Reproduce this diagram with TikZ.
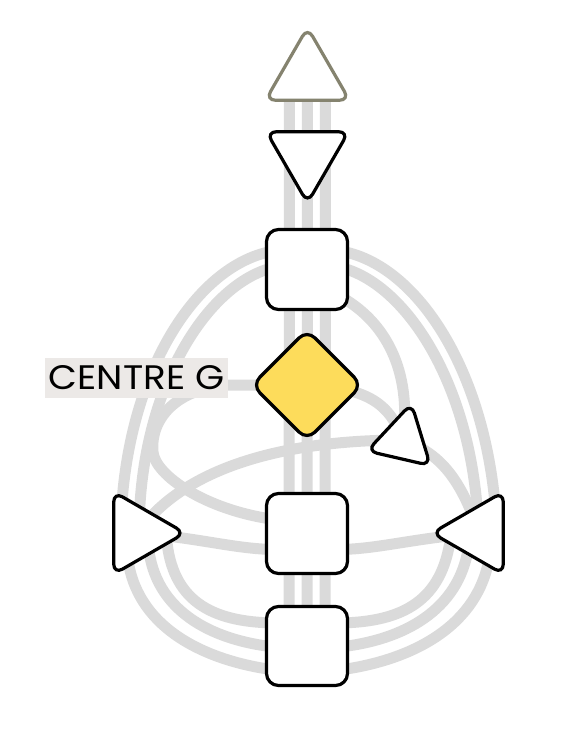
\documentclass[tikz,border=0pt]{standalone}
\usepackage{fontspec}
\setmainfont{Poppins}
\usepackage{xcolor}
\usetikzlibrary{
    shapes.geometric,
    calc,
    positioning
}
\pgfdeclarelayer{bg}
\pgfsetlayers{bg,main}
\definecolor{chanGray}{HTML}{DADADA}
\definecolor{headGray}{HTML}{85836F}
\definecolor{gYellow}{HTML}{FDDC5B}
\definecolor{lblGray}{HTML}{ECE9E7}
\tikzset{
    centrebox/.style={draw=black, line width=3.2pt, fill=white, inner sep=0pt, outer sep=0pt},
    tri/.style={centrebox, regular polygon, regular polygon sides=3, rounded corners=10pt},
    sq/.style={centrebox, rectangle, rounded corners=12pt, minimum width=81pt, minimum height=80pt},
    chan/.style={draw=chanGray, line width=11pt},
    lbl/.style={fill=lblGray, inner sep=0pt, minimum width=183pt, minimum height=40pt,
        font=\fontsize{34}{34}\selectfont}
}

\begin{document}
\begin{tikzpicture}[x=1pt, y=-1pt]
    \useasboundingbox (0,0) rectangle (571,752);

    \node[tri, draw=headGray, minimum size=97pt] (head) at (307.5,76) {};
    \node[tri, minimum size=95pt, rotate=180] (ajna) at (307.5,155.5) {};
    \node[sq] (throat) at (307,269.5) {};
    \node[centrebox, diamond, fill=gYellow, aspect=1, minimum width=110pt,
        minimum height=110pt, rounded corners=11pt] (G) at (307,385) {};
    \node[tri, minimum size=75pt, rotate=-13] (heart) at (403,440) {};
    \node[tri, minimum size=95pt, rotate=-90] (spleen) at (137.5,533) {};
    \node[tri, minimum size=95pt, rotate=90] (solar) at (479.5,533) {};
    \node[sq] (sacral) at (307,533.5) {};
    \node[sq, minimum height=79pt] (root) at (307,646) {};

    \node[lbl] (lblG) at (136.5,378) {\scalebox{1.1}[1]{CENTRE G}};

    \begin{pgfonlayer}{bg}
        % vertical channels
        \foreach \dx in {-18,0,18}
            \draw[chan] ([xshift=\dx pt]head.center) -- ([xshift=\dx pt]root.center);

        % throat to spleen and solar plexus
        \draw[chan] ([yshift=17pt]throat.west) .. controls (195,270) and (130,370) .. ([shift={(-16,-24)}]spleen.center);
        \draw[chan] (throat.west) .. controls (205,290) and (145,385) .. ([shift={(2,-20)}]spleen.center);
        \draw[chan] ([yshift=17pt]throat.east) .. controls (419,270) and (484,370) .. ([shift={(16,-24)}]solar.center);
        \draw[chan] (throat.east) .. controls (409,290) and (469,385) .. ([shift={(-2,-20)}]solar.center);

        % heart
        \draw[chan] ([shift={(35,28)}]throat.center) .. controls (385,322) and (412,370) .. (heart.center);
        \draw[chan] (G.center) .. controls (370,388) and (390,405) .. (heart.center);
        \draw[chan] (heart.center) .. controls (290,440) and (185,465) .. (spleen.center);
        \draw[chan] (heart.center) .. controls (445,455) and (462,485) .. (solar.center);

        % sacral
        \draw[chan] (G.center) -- (230,385) .. controls (175,388) and (150,420) .. (153,452)
            .. controls (155,475) and (205,510) .. ([shift={(8,-14)}]sacral.west);
        \draw[chan] (spleen.center) .. controls (200,538) and (235,549) .. ([shift={(8,16)}]sacral.west);
        \draw[chan] (solar.center) .. controls (414,538) and (379,549) .. ([shift={(-8,16)}]sacral.east);

        % root
        \draw[chan] ([shift={(-10,23)}]spleen.center) .. controls (135,625) and (200,660) .. ([shift={(8,24)}]root.west);
        \draw[chan] ([shift={(11,14)}]spleen.center) .. controls (155,610) and (210,640) .. ([shift={(8,1)}]root.west);
        \draw[chan] ([shift={(29,5)}]spleen.center) .. controls (172,600) and (210,622) .. ([shift={(8,-23)}]root.west);
        \draw[chan] ([shift={(10,23)}]solar.center) .. controls (479,625) and (414,660) .. ([shift={(-8,24)}]root.east);
        \draw[chan] ([shift={(-11,14)}]solar.center) .. controls (459,610) and (404,640) .. ([shift={(-8,1)}]root.east);
        \draw[chan] ([shift={(-29,5)}]solar.center) .. controls (442,600) and (404,622) .. ([shift={(-8,-23)}]root.east);
    \end{pgfonlayer}
\end{tikzpicture}
\end{document}
